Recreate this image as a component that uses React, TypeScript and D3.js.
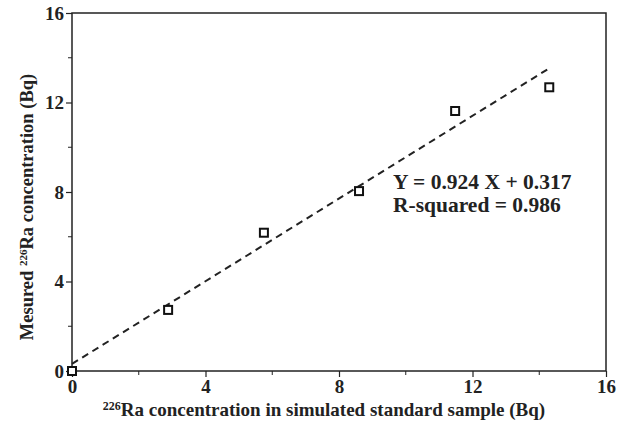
import React, { useEffect, useRef } from "react";
import * as d3 from "d3";

const standardX = [0, 2.88, 5.75, 8.6, 11.48, 14.3];
const measuredY = [0, 2.73, 6.18, 8.04, 11.62, 12.68];
const majorTicks = [0, 4, 8, 12, 16];
const minorTicks = [2, 6, 10, 14];
const fitSlope = 0.924;
const fitIntercept = 0.317;
const fitRange = [0, 14.35];
const fitLabels = ["Y = 0.924 X + 0.317", "R-squared = 0.986"];

const W = 629;
const H = 426;
const margin = { left: 72, right: 23, top: 13, bottom: 55 };
const FONT = "'Liberation Serif', 'Times New Roman', serif";

const App = () => {
  const ref = useRef<SVGSVGElement | null>(null);

  useEffect(() => {
    const svg = d3.select(ref.current);
    svg.selectAll("*").remove();

    const x = d3.scaleLinear().domain([0, 16]).range([margin.left, W - margin.right]);
    const y = d3.scaleLinear().domain([0, 16]).range([H - margin.bottom, margin.top]);
    const [x0, x1] = x.range();
    const [y0, y1] = y.range();

    // frame
    svg
      .append("rect")
      .attr("x", x0)
      .attr("y", y1)
      .attr("width", x1 - x0)
      .attr("height", y0 - y1)
      .attr("fill", "none")
      .attr("stroke", "#222")
      .attr("stroke-width", 1.5);

    // x axis
    const xAxis = svg.append("g").attr("transform", `translate(0,${y0})`);
    xAxis
      .call(d3.axisBottom(x).tickValues(majorTicks).tickSize(6).tickPadding(3).tickFormat(d3.format("d")))
      .call((g) => g.select(".domain").remove());
    xAxis
      .selectAll(".minor")
      .data(minorTicks)
      .enter()
      .append("line")
      .attr("x1", (d) => x(d))
      .attr("x2", (d) => x(d))
      .attr("y1", 0)
      .attr("y2", 4)
      .attr("stroke", "#222");

    // y axis
    const yAxis = svg.append("g").attr("transform", `translate(${x0},0)`);
    yAxis
      .call(d3.axisLeft(y).tickValues(majorTicks).tickSize(6).tickPadding(2).tickFormat(d3.format("d")))
      .call((g) => g.select(".domain").remove());
    yAxis
      .selectAll(".minor")
      .data(minorTicks)
      .enter()
      .append("line")
      .attr("x1", 0)
      .attr("x2", -4)
      .attr("y1", (d) => y(d))
      .attr("y2", (d) => y(d))
      .attr("stroke", "#222");

    svg
      .selectAll(".tick line")
      .attr("stroke", "#222")
      .attr("stroke-width", 1.2);
    svg
      .selectAll(".tick text")
      .attr("font-family", FONT)
      .attr("font-weight", "bold")
      .attr("font-size", 19)
      .attr("fill", "#222");

    // fitted line
    const line = d3
      .line<number>()
      .x((d) => x(d))
      .y((d) => y(fitSlope * d + fitIntercept));
    svg
      .append("path")
      .datum(fitRange)
      .attr("d", line)
      .attr("fill", "none")
      .attr("stroke", "#222")
      .attr("stroke-width", 2)
      .attr("stroke-dasharray", "7,5");

    // points
    const s = 8;
    svg
      .selectAll(".pt")
      .data(standardX)
      .enter()
      .append("rect")
      .attr("x", (d) => x(d) - s / 2)
      .attr("y", (_, i) => y(measuredY[i]) - s / 2)
      .attr("width", s)
      .attr("height", s)
      .attr("fill", "white")
      .attr("stroke", "#111")
      .attr("stroke-width", 2);

    // equation
    svg
      .append("text")
      .attr("x", 393)
      .attr("y", 189)
      .attr("font-family", FONT)
      .attr("font-weight", "bold")
      .attr("font-size", 21.5)
      .attr("fill", "#222")
      .selectAll("tspan")
      .data(fitLabels)
      .enter()
      .append("tspan")
      .attr("x", 393)
      .attr("dy", (_, i) => (i === 0 ? 0 : 23))
      .text((d) => d);

    // x title
    const xt = svg
      .append("text")
      .attr("x", 324)
      .attr("y", 416)
      .attr("text-anchor", "middle")
      .attr("font-family", FONT)
      .attr("font-weight", "bold")
      .attr("font-size", 19)
      .attr("fill", "#222");
    xt.append("tspan").attr("font-size", 12).attr("dy", -6).text("226");
    xt.append("tspan").attr("dy", 6).text("Ra concentration in simulated standard sample (Bq)");

    // y title
    const yt = svg
      .append("text")
      .attr("transform", `translate(33,${(y0 + y1) / 2 + 15}) rotate(-90)`)
      .attr("text-anchor", "middle")
      .attr("font-family", FONT)
      .attr("font-weight", "bold")
      .attr("font-size", 18.5)
      .attr("fill", "#222");
    yt.append("tspan").text("Mesured ");
    yt.append("tspan").attr("font-size", 11).attr("dy", -6).text("226");
    yt.append("tspan").attr("dy", 6).text("Ra concentration (Bq)");
  }, []);

  return (
    <svg
      ref={ref}
      width={W}
      height={H}
      style={{ position: "absolute", left: 0, top: 0, background: "white" }}
    />
  );
};

export default App;
